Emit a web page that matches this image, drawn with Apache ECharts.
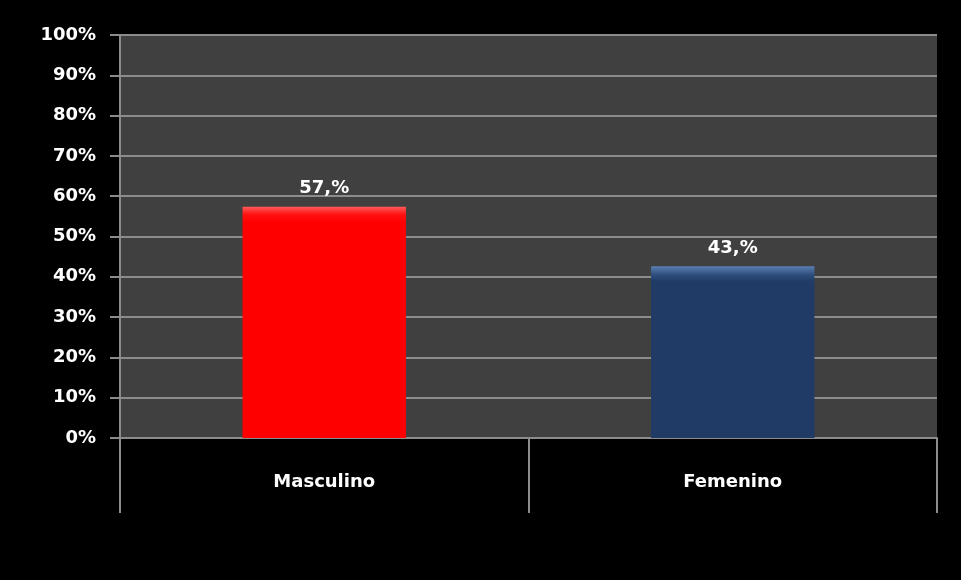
<!DOCTYPE html>
<html><head><meta charset="utf-8">
<script src="https://cdn.jsdelivr.net/npm/echarts@6/dist/echarts.min.js"></script>
<style>html,body{margin:0;padding:0;background:#000}#c{width:961px;height:580px}</style>
</head><body><div id="c"></div>
<script>
const categories = ['Masculino', 'Femenino'];
const values = [57.4, 42.6];
const barLabels = ['57,%', '43,%'];
const yTicks = [0, 10, 20, 30, 40, 50, 60, 70, 80, 90, 100];

const barColors = [
  {type:'linear',x:0,y:0,x2:0,y2:1,colorStops:[{offset:0,color:'#ff5a5a'},{offset:0.035,color:'#ff1010'},{offset:0.07,color:'#ff0000'},{offset:1,color:'#ff0000'}]},
  {type:'linear',x:0,y:0,x2:0,y2:1,colorStops:[{offset:0,color:'#5a7fb3'},{offset:0.05,color:'#2d4d7c'},{offset:0.09,color:'#1f3b66'},{offset:1,color:'#1f3b66'}]}
];

const chart = echarts.init(document.getElementById('c'));
chart.setOption({
  backgroundColor: '#000000',
  animation: false,
  grid: {left: 120, right: 24, top: 35, bottom: 142, show: true, backgroundColor: '#404040', borderWidth: 0},
  xAxis: {
    type: 'category',
    data: categories,
    axisLine: {show: true, lineStyle: {color: '#8c8c8c', width: 2}},
    axisTick: {show: true, length: 75, alignWithLabel: false, lineStyle: {color: '#8c8c8c', width: 2}},
    axisLabel: {color: '#ffffff', fontSize: 18, fontWeight: 'bold', fontFamily: 'DejaVu Sans', margin: 35}
  },
  yAxis: {
    type: 'value',
    min: yTicks[0], max: yTicks[yTicks.length-1], interval: 10,
    axisLine: {show: true, lineStyle: {color: '#8c8c8c', width: 2}},
    axisTick: {show: true, length: 10, lineStyle: {color: '#8c8c8c', width: 2}},
    splitLine: {show: true, lineStyle: {color: '#8c8c8c', width: 2}},
    axisLabel: {color: '#ffffff', fontSize: 18, fontWeight: 'bold', fontFamily: 'DejaVu Sans', margin: 24, formatter: '{value}%'}
  },
  series: [{
    type: 'bar',
    barWidth: '40%',
    data: values.map((v, i) => ({value: v, itemStyle: {color: barColors[i]}})),
    label: {
      show: true, position: 'top', distance: 9,
      color: '#ffffff', fontSize: 18, fontWeight: 'bold', fontFamily: 'DejaVu Sans',
      formatter: p => barLabels[p.dataIndex]
    }
  }]
});
</script>
</body></html>
